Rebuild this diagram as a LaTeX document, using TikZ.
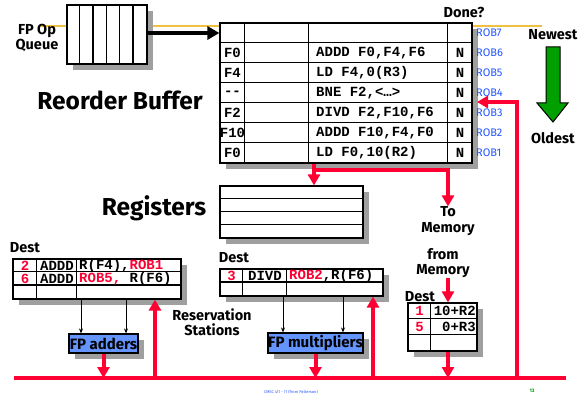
\documentclass[tikz,border=0pt]{standalone}
\usepackage{fontspec}
\setmainfont{Fira Sans}
\newfontfamily\codefont{Liberation Mono}[Ligatures=TeXOff]
\usetikzlibrary{arrows.meta,shadows}
\definecolor{busred}{HTML}{FF0033}
\definecolor{robblue}{HTML}{2255FF}
\definecolor{unitblue}{HTML}{6495FF}
\definecolor{newgreen}{HTML}{00A000}
\definecolor{qyellow}{HTML}{F0C040}
\tikzset{
  tbl/.style={draw, line width=1.2pt, fill=white, inner sep=0pt,
    drop shadow={shadow xshift=6pt, shadow yshift=-6pt, fill=gray!75, opacity=1}},
  unit/.style={tbl, fill=unitblue, font=\bfseries\fontsize{15}{15}\selectfont},
  code/.style={font=\codefont\bfseries\fontsize{14}{14}\selectfont, inner sep=0pt},
  lbl/.style={font=\bfseries\fontsize{14.5}{15.5}\selectfont, align=center, inner sep=0pt},
  big/.style={font=\bfseries\fontsize{24.5}{26}\selectfont, inner sep=0pt},
  robtag/.style={font=\fontsize{11}{11}\selectfont, text=robblue, anchor=west, inner sep=0pt},
  redarr/.style={draw=busred, line width=4pt, -{Triangle[length=11pt,width=12pt]}},
  redline/.style={draw=busred, line width=4pt},
  thinarr/.style={line width=0.8pt, -{Stealth[length=5pt,width=4pt]}},
}
\begin{document}
\begin{tikzpicture}[x=1pt,y=-1pt]
\useasboundingbox (0,0) rectangle (579,396);
% background line
\coordinate (yl) at (40,26);
\coordinate (yr) at (542,26);
\draw[qyellow, line width=1.5pt] (yl) -- (yr);

% instruction queue
\node[tbl, minimum width=80pt, minimum height=59pt] (queue) at (107,34.5) {};
\foreach \i in {1,...,5}
  \draw[line width=1.2pt] ([xshift=\i*13.33pt]queue.north west) -- ([xshift=\i*13.33pt]queue.south west);
\node[lbl] (qname) at (37,38) {FP Op\\Queue};

% reorder buffer
\node[tbl, minimum width=252pt, minimum height=140pt] (rob) at (346,93) {};
\foreach \r in {1,...,6}
  \draw[line width=1.2pt] ([yshift=-\r*20pt]rob.north west) -- ([yshift=-\r*20pt]rob.north east);
\foreach \c in {25,89,228}
  \draw[line width=1.2pt] ([xshift=\c pt]rob.north west) -- ([xshift=\c pt]rob.south west);
\foreach \d/\ins [count=\k] in {F0/{ADDD F0,F4,F6}, F4/{LD F4,0(R3)}, {-\kern0pt-}/{BNE F2,<…>},
    F2/{DIVD F2,F10,F6}, F10/{ADDD F10,F4,F0}, F0/{LD F0,10(R2)}} {
  \node[code] (dst\k) at (232.5,33+20*\k) {\d};
  \node[code, anchor=west] (ins\k) at (316,33+20*\k) {\ins};
  \node[code] (done\k) at (460,33+20*\k) {N};
}
\foreach \k in {0,...,6}
  \pgfmathtruncatemacro{\n}{7-\k}
  \node[robtag] (tag\n) at (476,33+20*\k) {ROB\n};
\node[lbl] (done) at (464,12) {Done?};
\node[big] (robname) at (120,100) {Reorder Buffer};

\draw[line width=4pt, -{Triangle[length=12pt,width=13pt]}]
  ([yshift=1.5pt]queue.east) -- ([yshift=1.5pt]queue.east -| rob.west);

% age arrow
\node[lbl] (newest) at (553,35) {Newest};
\node[lbl] (oldest) at (553,138) {Oldest};
\draw[fill=newgreen, line width=1pt] (546,47) -- (560,47) -- (560,103) -- (568,103)
  -- (553,122) -- (537,103) -- (546,103) -- cycle;

% registers
\node[tbl, minimum width=143pt, minimum height=52pt] (regs) at (291.5,212) {};
\foreach \r in {1,2,3}
  \draw[line width=1.2pt] ([yshift=-\r*13pt]regs.north west) -- ([yshift=-\r*13pt]regs.north east);
\node[big] (regname) at (154,208) {Registers};

% result paths
\coordinate (tap) at (314,170);
\node[lbl] (tomem) at (448,221) {To\\Memory};
\draw[redarr] (rob.south -| tap) -- (regs.north -| tap);
\draw[redarr] (tap) -| (tomem.north);

% common data bus
\coordinate (busL) at (14,378);
\coordinate (busR) at (566,378);
\draw[redline] (busL) -- (busR);
\coordinate (robfb) at (517,378);
\coordinate (robin) at (477,102);
\draw[redarr] (robfb) |- (robin);

% load buffer
\coordinate (memx) at (448,0);
\node[lbl] (frommem) at (443,263) {from\\Memory};
\node[tbl, minimum width=69pt, minimum height=48pt] (ldbuf) at (442.5,327) {};
\foreach \r in {1,2}
  \draw[line width=1.2pt] ([yshift=-\r*16pt]ldbuf.north west) -- ([yshift=-\r*16pt]ldbuf.north east);
\draw[line width=1.2pt] ([xshift=23pt]ldbuf.north west) -- ([xshift=23pt]ldbuf.south west);
\node[code, text=busred] (ld1) at (419.5,311) {1};
\node[code, anchor=east] (la1) at (476,311) {10+R2};
\node[code, text=busred] (ld2) at (419.5,327) {5};
\node[code, anchor=east] (la2) at (476,327) {0+R3};
\node[lbl] (ldest) at (420,297) {Dest};
\draw[redarr] (frommem.south -| memx) -- (ldbuf.north -| memx);
\draw[redarr] (ldbuf.south -| memx) -- (busL -| memx);

% adder reservation stations
\node[tbl, minimum width=168pt, minimum height=40pt] (addrs) at (97,279) {};
\foreach \r in {1,2}
  \draw[line width=1.2pt] ([yshift=-\r*13.3pt]addrs.north west) -- ([yshift=-\r*13.3pt]addrs.north east);
\foreach \c in {24,64}
  \draw[line width=1.2pt] ([xshift=\c pt]addrs.north west) -- ([xshift=\c pt]addrs.south west);
\node[code, text=busred] (ad1) at (25,265.5) {2};
\node[code] (ao1) at (57,265.5) {ADDD};
\node[code, anchor=west] (av1) at (79,265.5) {R(F4),\textcolor{busred}{ROB1}};
\node[code, text=busred] (ad2) at (25,279) {6};
\node[code] (ao2) at (57,279) {ADDD};
\node[code, anchor=west] (av2) at (79,279) {\textcolor{busred}{ROB5,} R(F6)};
\node[lbl] (adest) at (25,248) {Dest};

\node[unit, minimum width=69pt, minimum height=19pt] (adders) at (103.5,343.5) {FP adders};
\path ([xshift=-22.5pt]adders.north) coordinate (ain1) ([xshift=22.5pt]adders.north) coordinate (ain2);
\draw[thinarr] (ain1 |- addrs.south) -- (ain1);
\draw[thinarr] (ain2 |- addrs.south) -- (ain2);
\draw[redarr] (adders.south) -- (adders.south |- busL);
\coordinate (addfb) at (155,378);
\draw[redarr] (addfb) -- (addfb |- addrs.south);

% multiplier reservation stations
\node[tbl, minimum width=163pt, minimum height=27pt] (mulrs) at (301.5,282.5) {};
\draw[line width=1.2pt] ([yshift=-13.5pt]mulrs.north west) -- ([yshift=-13.5pt]mulrs.north east);
\foreach \c in {23,67}
  \draw[line width=1.2pt] ([xshift=\c pt]mulrs.north west) -- ([xshift=\c pt]mulrs.south west);
\node[code, text=busred] (md1) at (231.5,276) {3};
\node[code] (mo1) at (265,276) {DIVD};
\node[code, anchor=west] (mv1) at (289,276) {\textcolor{busred}{ROB2},R(F6)};
\node[lbl] (mdest) at (234,258) {Dest};

\node[unit, minimum width=95pt, minimum height=20pt] (mults) at (315.5,343) {FP multipliers};
\path ([xshift=-32.5pt]mults.north) coordinate (min1) ([xshift=27.5pt]mults.north) coordinate (min2);
\draw[thinarr] (min1 |- mulrs.south) -- (min1);
\draw[thinarr] (min2 |- mulrs.south) -- (min2);
\draw[redarr] (mults.south) -- (mults.south |- busL);
\coordinate (mulfb) at (373,378);
\draw[redarr] (mulfb) -- (mulfb |- mulrs.south);

\node[lbl] (rsname) at (212,322) {Reservation\\Stations};

% footer
\node[font=\fontsize{4}{4}\selectfont, text=robblue] (foot) at (291,392) {CMSC 411 - 11 (from Patterson)};
\node[font=\bfseries\fontsize{5}{5}\selectfont, text=green!60!black] (pgno) at (532,391) {13};
\end{tikzpicture}
\end{document}
